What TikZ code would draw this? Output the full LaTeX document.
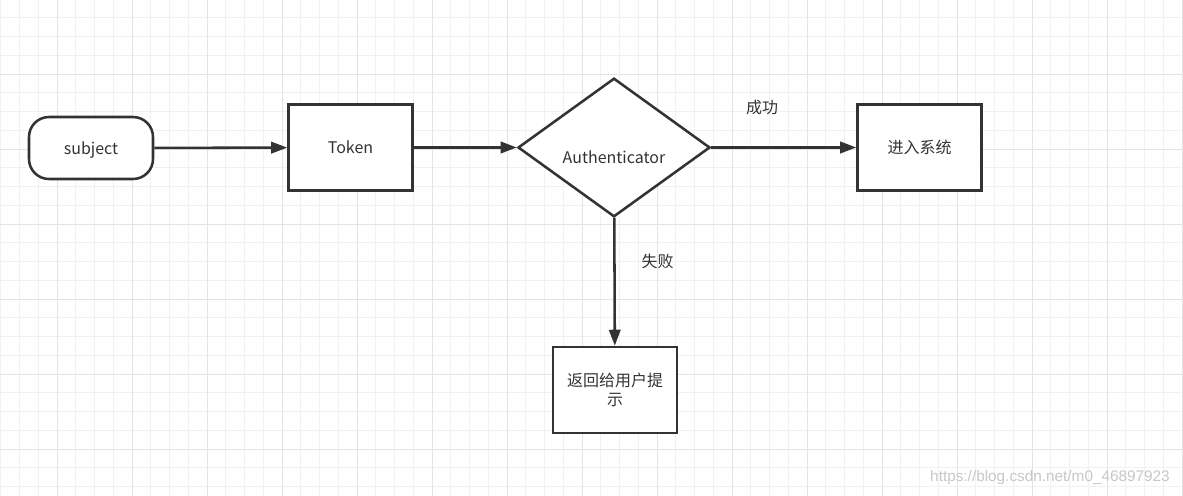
\documentclass[tikz,border=0pt]{standalone}
\usepackage{fontspec}
\setmainfont{Noto Sans CJK SC}
\newfontfamily\markfont{Liberation Sans}
\usetikzlibrary{shapes.geometric,arrows.meta}
\definecolor{ink}{HTML}{333333}
\definecolor{gridminor}{HTML}{F1F1F1}
\definecolor{gridmajor}{HTML}{E4E4E4}
\begin{document}
\begin{tikzpicture}[x=0.75pt, y=-0.75pt, >={Triangle[length=12pt,width=8.5pt]},
    every node/.style={font=\fontsize{12}{14.25}\selectfont, text=ink},
    flow/.style={line width=1.9pt, draw=ink},
    box/.style={flow, fill=white, minimum width=93pt, minimum height=64.5pt, inner sep=2pt},
    terminal/.style={flow, fill=white, rounded corners=15pt, minimum width=93pt, minimum height=46.5pt},
    decision/.style={flow, fill=white, diamond, minimum width=144pt, minimum height=104pt, inner sep=0pt},
    link/.style={line width=1.9pt, draw=ink, ->}]
    \fill [white] (0,0) rectangle (1183,496);
    \useasboundingbox (0,0) rectangle (1183,496);
    % grid
    \foreach \i in {0,...,63} {
        \draw [gridminor, line width=0.75pt] ({0.75+18.75*\i},0) -- ({0.75+18.75*\i},496);
    }
    \foreach \i in {0,...,27} {
        \draw [gridminor, line width=0.75pt] (0,{-1+18.75*\i}) -- (1183,{-1+18.75*\i});
    }
    \foreach \i in {0,...,15} {
        \draw [gridmajor, line width=0.75pt] ({57+75*\i},0) -- ({57+75*\i},496);
    }
    \foreach \i in {0,...,6} {
        \draw [gridmajor, line width=0.75pt] (0,{-1+75*\i}) -- (1183,{-1+75*\i});
    }

    \coordinate (S) at (91,148);
    \coordinate (T) at (350.5,147.5);
    \coordinate (A) at (614,147.5);
    \coordinate (E) at (919.5,147.5);
    \coordinate (R) at (615,390);

    \node [terminal, text height=10pt, text depth=0pt] (sub) at (S) {subject};
    \node [box] (tok) at (T) {Token};
    \node [decision, text height=24pt, text depth=0pt] (auth) at (A) {Authenticator};
    \node [box] (sys) at (E) {进入系统};
    \node [box, align=center] (tip) at (R) {返回给用户提\\示};

    \draw [link] (sub) -- (tok);
    \draw [link] (tok) -- (auth);
    \draw [link] (auth) -- node [above=20pt, pos=0.35] (ok) {成功} (sys);
    \draw [link] (auth) -- node [right=16pt, pos=0.34] (fail) {失败} (tip);

    \node [font=\markfont\fontsize{11.5}{13}\selectfont, text=black!22] (mark) at (1050,478) {https://blog.csdn.net/m0\_46897923};
\end{tikzpicture}
\end{document}
